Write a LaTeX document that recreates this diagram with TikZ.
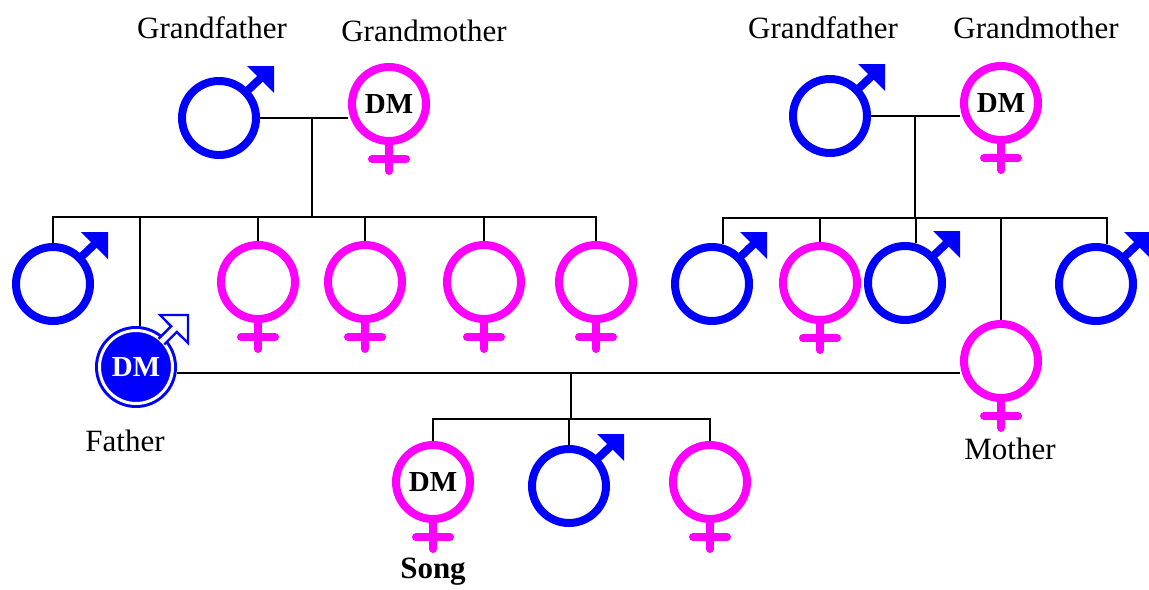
\documentclass[tikz,border=0pt]{standalone}
\usepackage{fontspec}
\setmainfont{Liberation Serif}
\usetikzlibrary{positioning}
\definecolor{boy}{RGB}{0,0,255}
\definecolor{girl}{RGB}{255,0,255}

\begin{document}
\begin{tikzpicture}[x=0.5pt,y=-0.5pt,
    font=\fontsize{15.5}{18}\selectfont,
    male/.style={circle,draw=boy,line width=4pt,minimum size=37pt,inner sep=0pt},
    female/.style={circle,draw=girl,line width=4pt,minimum size=37pt,inner sep=0pt},
    dm/.style={font=\fontsize{14.5}{16}\selectfont\bfseries},
    shaft/.style={draw=boy,line width=4pt},
    cross/.style={draw=girl,line width=4pt,line cap=round},
    link/.style={draw=black,line width=1pt}]

  \useasboundingbox (0,0) rectangle (1149,589);

  % father's side
  \node[male]      (gfL) at (219,118) {};
  \node[female,dm] (gmL) at (389,104) {DM};
  \node[male]      (c1)  at (53,284)  {};
  \node[circle,fill=boy,minimum size=41pt,inner sep=0pt,text=white,dm]
                   (dad) at (136,367) {DM};
  \node[female]    (c3)  at (258,282) {};
  \node[female]    (c4)  at (365,282) {};
  \node[female]    (c5)  at (484,282) {};
  \node[female]    (c6)  at (596,282) {};

  % mother's side
  \node[male]      (gfR) at (830,116) {};
  \node[female,dm] (gmR) at (1001,103) {DM};
  \node[male]      (r1)  at (712,284) {};
  \node[female]    (r2)  at (820,283) {};
  \node[male]      (r3)  at (905,283) {};
  \node[female]    (mom) at (1001,361) {};
  \node[male]      (r5)  at (1096,284) {};

  % children
  \node[female,dm] (kid1) at (433,482) {DM};
  \node[male]      (kid2) at (569,486) {};
  \node[female]    (kid3) at (710,482) {};

  % arrows and crosses
  \foreach \m in {gfL,gfR,c1,r1,r3,r5,kid2} {
    \draw[shaft,shift={(\m.center)}] (24,-23) -- (46,-44);
    \fill[boy,shift={(\m.center)}] (55,-52) -- ++(-27,0) -- ++(27,27) -- cycle;
  }
  \foreach \f in {gmL,gmR,c3,c4,c5,c6,r2,mom,kid1,kid3}
    \draw[cross,shift={(\f.center)}] (0,40) -- (0,67) (-17,55) -- (17,55);

  \draw[white,line width=1.5pt] (dad) circle[radius=18.25pt];
  \draw[draw=boy,fill=white,line width=1.2pt,shift={(dad.center)}]
    (22.6,-28.3) -- (35.1,-40.8) -- (24,-52) -- (52,-52) -- (52,-24)
    -- (40.8,-35.1) -- (28.3,-22.6);

  % family lines
  \coordinate (jL) at (312,217);
  \coordinate (jR) at (915,218);
  \coordinate (jP) at (571,373);
  \coordinate (jK) at (571,419);

  \draw[link] (gfL.east) -- (gfL.east -| gmL.west);
  \draw[link] (jL |- gfL) -- (jL);
  \foreach \c in {c1.north,dad.84,c3.north,c4.north,c5.north,c6.north}
    \draw[link] (\c) |- (jL);

  \draw[link] (gfR.east) -- (gfR.east -| gmR.west);
  \draw[link] (jR |- gfR) -- (jR);
  \foreach \c in {r1.75,r2.north,r3.75,mom.north,r5.75}
    \draw[link] (\c) |- (jR);

  \draw[link] (dad.east |- jP) -- (mom.west |- jP);
  \draw[link] (jP) -- (jK);
  \foreach \c in {kid1,kid2,kid3}
    \draw[link] (\c.north) |- (jK);

  % names
  \node (lblGfL) at (212,28)  {Grandfather};
  \node (lblGmL) at (424,31)  {Grandmother};
  \node (lblGfR) at (823,28)  {Grandfather};
  \node (lblGmR) at (1036,28) {Grandmother};
  \node (lblDad) at (125,441) {Father};
  \node (lblMom) at (1010,449) {Mother};
  \node[font=\fontsize{15.5}{18}\selectfont\bfseries] (lblSong) at (433,572) {Song};

\end{tikzpicture}
\end{document}
